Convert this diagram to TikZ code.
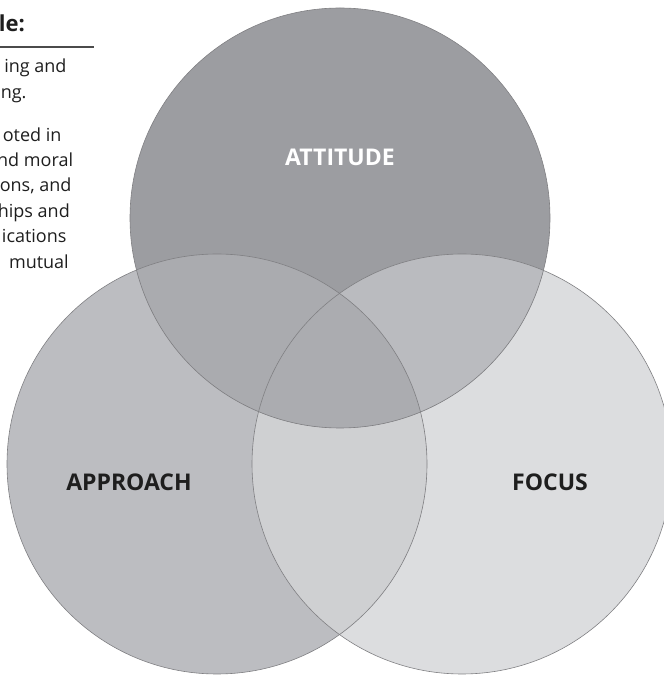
\documentclass[tikz,border=0pt]{standalone}
\usepackage{fontspec}
\setmainfont{Open Sans}
\usetikzlibrary{positioning}
\definecolor{AttitudeGrey}{RGB}{156,157,161}
\definecolor{ApproachGrey}{RGB}{188,189,193}
\definecolor{FocusGrey}{RGB}{220,221,223}
\definecolor{AttAppGrey}{RGB}{170,171,175}
\definecolor{AttFocGrey}{RGB}{186,187,191}
\definecolor{AppFocGrey}{RGB}{207,208,210}
\definecolor{CoreGrey}{RGB}{171,172,176}
\definecolor{RimGrey}{RGB}{128,128,131}
\definecolor{InkGrey}{RGB}{30,30,30}
\def\vennr{210pt}

\begin{document}
\begin{tikzpicture}[x=1pt,y=1pt,
    venntext/.style={font=\fontsize{23}{28}\selectfont\bfseries,text=InkGrey},
    body/.style={font=\fontsize{18}{22}\selectfont,text=InkGrey,anchor=base east,inner sep=0pt},
    rim/.style={draw=RimGrey,line width=.6pt}]
  \clip (0,0) rectangle (664,675);
  \coordinate (attitude) at (340,457);
  \coordinate (approach) at (217,211);
  \coordinate (focus) at (462,211);
  % the three discs
  \fill[FocusGrey] (focus) circle (\vennr);
  \fill[ApproachGrey] (approach) circle (\vennr);
  \fill[AttitudeGrey] (attitude) circle (\vennr);
  % pairwise overlaps, then the middle
  \begin{scope}
    \clip (approach) circle (\vennr);
    \fill[AppFocGrey] (focus) circle (\vennr);
  \end{scope}
  \begin{scope}
    \clip (attitude) circle (\vennr);
    \fill[AttAppGrey] (approach) circle (\vennr);
    \fill[AttFocGrey] (focus) circle (\vennr);
  \end{scope}
  \begin{scope}
    \clip (attitude) circle (\vennr);
    \clip (approach) circle (\vennr);
    \fill[CoreGrey] (focus) circle (\vennr);
  \end{scope}
  \foreach \c in {attitude,approach,focus}
    \draw[rim] (\c) circle (\vennr);
  \node[venntext,text=white] (attitude-label) at (340,518) {ATTITUDE};
  \node[venntext] (approach-label) at (129,193) {APPROACH};
  \node[venntext] (focus-label) at (550,193) {FOCUS};
  % side note
  \node[font=\fontsize{22}{26}\selectfont\bfseries,text=InkGrey,anchor=base east,inner sep=0pt]
    (note-head) at (25,643) {le:};
  \draw[line width=1.2pt,InkGrey!80] (0,628) -- (94,628);
  \foreach \x/\y/\t [count=\i] in {66.7/602/{ing and},26.7/576.5/{ng.},
      61.7/533.3/{oted in},73.3/508.5/{nd moral},71.7/483.5/{ons, and},
      70/457.5/{hips and},66.7/432/{ications},69/406.5/{mutual}}
    \node[body] (note-\i) at (\x,\y) {\t};
\end{tikzpicture}
\end{document}
